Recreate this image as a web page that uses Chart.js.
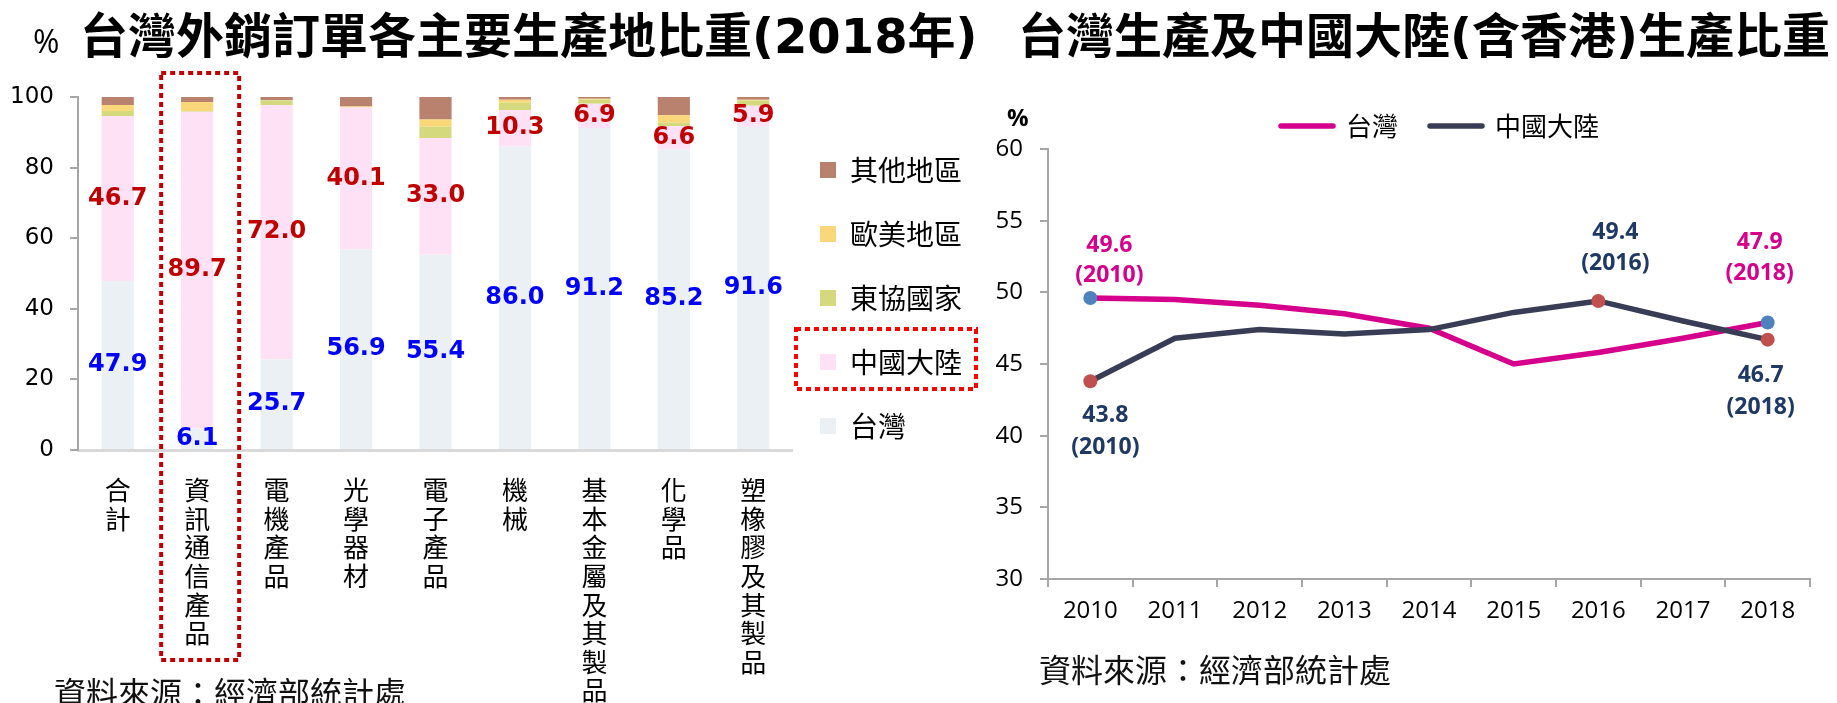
<!DOCTYPE html>
<html><head><meta charset="utf-8">
<script src="https://cdn.jsdelivr.net/npm/chart.js@4.4.1/dist/chart.umd.min.js"></script>
<style>
html,body{margin:0;padding:0;background:#fff;width:1837px;height:703px;overflow:hidden;position:relative;}
.abs{position:absolute;white-space:nowrap;color:#000;}
canvas{position:absolute;}
.title{font-family:"DejaVu Sans","Noto Sans CJK TC",sans-serif;font-weight:700;font-size:48px;line-height:48px;}
.src{font-family:"Noto Sans CJK TC",sans-serif;font-size:32px;line-height:32px;color:#111;}
</style></head><body>
<canvas id="c1" width="1000" height="703" style="left:0;top:0"></canvas>
<canvas id="c2" width="877" height="703" style="left:960px;top:0"></canvas>
<div class="abs" style="left:33px;top:25px;font-family:'Open Sans';font-size:32px;line-height:32px;">%</div>
<div class="abs title" style="left:80px;top:12px;">台灣外銷訂單各主要生產地比重(2018年)</div>
<div class="abs title" style="left:1018px;top:12px;">台灣生產及中國大陸(含香港)生產比重</div>
<div class="abs" style="left:1007px;top:103px;font-family:'Open Sans';font-weight:700;font-size:24px;line-height:28px;">%</div>
<div class="abs src" style="left:54px;top:675px;">資料來源：經濟部統計處</div>
<div class="abs src" style="left:1039px;top:652px;">資料來源：經濟部統計處</div>
<script>
// ---------- data: left stacked bar chart ----------
const categories = ['合計','資訊通信產品','電機產品','光學器材','電子產品','機械','基本金屬及其製品','化學品','塑橡膠及其製品'];
const taiwanShare = [47.9, 6.1, 25.7, 56.9, 55.4, 86.0, 91.2, 85.2, 91.6];
const chinaShare  = [46.7, 89.7, 72.0, 40.1, 33.0, 10.3, 6.9, 6.6, 5.9];
const aseanShare  = [1.4, 0.2, 1.3, 0.1, 3.2, 2.1, 1.2, 0.9, 1.5];
const euusShare   = [1.7, 2.6, 0.1, 0.2, 2.0, 0.8, 0.2, 2.1, 0.2];
const otherShare  = [2.3, 1.4, 0.9, 2.7, 6.4, 0.8, 0.5, 5.2, 0.8];
const barTicks = [0, 20, 40, 60, 80, 100];
const highlightCategory = '資訊通信產品';
const highlightLegend = '中國大陸';

// ---------- data: right line chart ----------
const years = ['2010','2011','2012','2013','2014','2015','2016','2017','2018'];
const taiwanProd = [49.6, 49.5, 49.1, 48.5, 47.5, 45.0, 45.8, 46.8, 47.9];
const chinaProd  = [43.8, 46.8, 47.4, 47.1, 47.4, 48.6, 49.4, 48.0, 46.7];
const lineTicks = [30, 35, 40, 45, 50, 55, 60];
const taiwanMarked = [0, 8];
const chinaMarked = [0, 6, 8];

Chart.defaults.animation = false;
Chart.defaults.devicePixelRatio = 1;

const CJK = "'Noto Sans CJK TC', sans-serif";

// shift a legend sideways after layout
const legendShift = dx => ({
  id: 'legendShift',
  afterLayout(chart) {
    if (chart.legend) { chart.legend.left += dx; chart.legend.right += dx; }
  }
});

// labels inside bar segments
const barLabelPlugin = {
  id: 'barLabels',
  afterDatasetsDraw(chart) {
    const ctx = chart.ctx;
    const cfg = [{ds: 0, color: '#0000FF'}, {ds: 1, color: '#C00000'}];
    ctx.save();
    ctx.font = 'bold 24px "DejaVu Sans"';
    ctx.textAlign = 'center';
    ctx.textBaseline = 'middle';
    cfg.forEach(c => {
      const meta = chart.getDatasetMeta(c.ds);
      meta.data.forEach((el, i) => {
        const p = el.getProps(['x', 'y', 'base'], true);
        ctx.fillStyle = c.color;
        ctx.fillText(chart.data.datasets[c.ds].data[i].toFixed(1), p.x, (p.y + p.base) / 2);
      });
    });
    ctx.restore();
  }
};

// dotted highlight boxes
const highlightPlugin = {
  id: 'highlights',
  afterDraw(chart) {
    const ctx = chart.ctx;
    ctx.save();
    ctx.lineWidth = 4;
    ctx.setLineDash([5, 4]);
    const xs = chart.scales.x;
    const idx = categories.indexOf(highlightCategory);
    const cx = xs.getPixelForValue(idx) + 3;
    const half = 39;
    ctx.strokeStyle = '#C00000';
    const top = chart.chartArea.top - 24;
    ctx.strokeRect(cx - half, top, half * 2, 660 - top);
    const lg = chart.legend;
    const li = lg.legendItems.findIndex(it => it.text === highlightLegend);
    const hb = lg.legendHitBoxes[li];
    if (hb) {
      ctx.strokeStyle = '#FF0000';
      ctx.strokeRect(hb.left - 24, hb.top - 19, hb.width + 38, hb.height + 32);
    }
    ctx.restore();
  }
};

new Chart(document.getElementById('c1'), {
  type: 'bar',
  data: {
    labels: categories.map(s => s.split('')),
    datasets: [
      {label: '台灣', data: taiwanShare, backgroundColor: '#EBF0F5'},
      {label: '中國大陸', data: chinaShare, backgroundColor: '#FFE1F5'},
      {label: '東協國家', data: aseanShare, backgroundColor: '#D5D97D'},
      {label: '歐美地區', data: euusShare, backgroundColor: '#FAD879'},
      {label: '其他地區', data: otherShare, backgroundColor: '#B8826E'}
    ]
  },
  options: {
    responsive: false,
    layout: {padding: {top: 97, left: 0, right: 19, bottom: 0}},
    datasets: {bar: {categoryPercentage: 1, barPercentage: 0.405, borderWidth: 0}},
    plugins: {
      tooltip: {enabled: false},
      legend: {
        position: 'right', align: 'start', reverse: true,
        title: {display: true, text: ' ', font: {size: 10, lineHeight: 1.2}, padding: {top: 5.5, bottom: 5.5}},
        labels: {boxWidth: 16, boxHeight: 16, padding: 36, color: '#000', font: {family: CJK, size: 28}}
      }
    },
    scales: {
      x: {
        stacked: true,
        grid: {display: false},
        border: {color: '#D9D9D9', width: 3},
        ticks: {autoSkip: false, maxRotation: 0, minRotation: 0, padding: 18, color: '#000',
                font: {family: CJK, size: 26, lineHeight: 1.1}},
        afterFit: s => { s.height = 253; }
      },
      y: {
        stacked: true, min: 0, max: 100,
        afterBuildTicks: s => { s.ticks = barTicks.map(v => ({value: v})); },
        grid: {drawOnChartArea: false, drawTicks: true, tickLength: 8, color: '#A6A6A6', lineWidth: 2},
        border: {color: '#A6A6A6', width: 2},
        ticks: {padding: 16, color: '#000', font: {family: "'DejaVu Sans'", size: 23}},
        afterFit: s => { s.width = 78; }
      }
    }
  },
  plugins: [legendShift(-9), barLabelPlugin, highlightPlugin]
});

// ---------- right chart ----------
const lineLabelSpecs = [
  {ds: 0, i: 0, dx: 19, dy: [-53, -23], color: '#D5008C'},
  {ds: 1, i: 0, dx: 15, dy: [34, 66], color: '#1F3864'},
  {ds: 1, i: 6, dx: 17, dy: [-68, -37], color: '#1F3864'},
  {ds: 0, i: 8, dx: -8, dy: [-80, -49], color: '#D5008C'},
  {ds: 1, i: 8, dx: -7, dy: [36, 68], color: '#1F3864'}
];
const lineLabelPlugin = {
  id: 'lineLabels',
  afterDatasetsDraw(chart) {
    const ctx = chart.ctx;
    ctx.save();
    ctx.font = "bold 23px 'Open Sans'";
    ctx.textAlign = 'center';
    ctx.textBaseline = 'middle';
    lineLabelSpecs.forEach(s => {
      const el = chart.getDatasetMeta(s.ds).data[s.i];
      const v = chart.data.datasets[s.ds].data[s.i];
      const lines = [v.toFixed(1), '(' + years[s.i] + ')'];
      ctx.fillStyle = s.color;
      lines.forEach((t, k) => ctx.fillText(t, el.x + s.dx, el.y + s.dy[k]));
    });
    ctx.restore();
  }
};

new Chart(document.getElementById('c2'), {
  type: 'line',
  data: {
    labels: years,
    datasets: [
      {label: '台灣', data: taiwanProd, order: 1, borderColor: '#D5008C', backgroundColor: '#D5008C',
       borderWidth: 5.5, borderCapStyle: 'round', tension: 0,
       pointRadius: ctx => taiwanMarked.includes(ctx.dataIndex) ? 7 : 0,
       pointBackgroundColor: '#4F81BD', pointBorderWidth: 0, pointHoverRadius: 0},
      {label: '中國大陸', data: chinaProd, order: 0, borderColor: '#383D55', backgroundColor: '#383D55',
       borderWidth: 5.5, borderCapStyle: 'round', tension: 0,
       pointRadius: ctx => chinaMarked.includes(ctx.dataIndex) ? 7 : 0,
       pointBackgroundColor: '#C0504D', pointBorderWidth: 0, pointHoverRadius: 0}
    ]
  },
  options: {
    responsive: false,
    layout: {padding: {top: 81, left: 0, right: 27, bottom: 64}},
    plugins: {
      tooltip: {enabled: false},
      legend: {
        position: 'top', fullSize: false,
        labels: {usePointStyle: true, pointStyleWidth: 52, boxHeight: 5,
                 padding: 32, color: '#000', font: {family: CJK, size: 26},
                 generateLabels: chart => chart.data.datasets.map((d, i) => ({
                   text: d.label, fillStyle: d.borderColor, strokeStyle: d.borderColor,
                   lineWidth: 5.5, lineCap: 'round', pointStyle: 'line', hidden: false, datasetIndex: i
                 }))}
      }
    },
    scales: {
      x: {
        offset: true,
        grid: {offset: true, drawOnChartArea: false, drawTicks: true, tickLength: 8, color: '#A6A6A6', lineWidth: 2},
        border: {color: '#A6A6A6', width: 2},
        ticks: {padding: 10, color: '#000', font: {family: "'Open Sans'", size: 24}, maxRotation: 0, autoSkip: false},
        afterFit: s => { s.height = 60; }
      },
      y: {
        min: 30, max: 60,
        afterBuildTicks: s => { s.ticks = lineTicks.map(v => ({value: v})); },
        grid: {drawOnChartArea: false, drawTicks: true, tickLength: 8, color: '#A6A6A6', lineWidth: 2},
        border: {color: '#A6A6A6', width: 2},
        ticks: {padding: 17, color: '#000', font: {family: "'Open Sans'", size: 24}},
        afterFit: s => { s.width = 88; }
      }
    }
  },
  plugins: [legendShift(11), lineLabelPlugin]
});
</script>
</body></html>
